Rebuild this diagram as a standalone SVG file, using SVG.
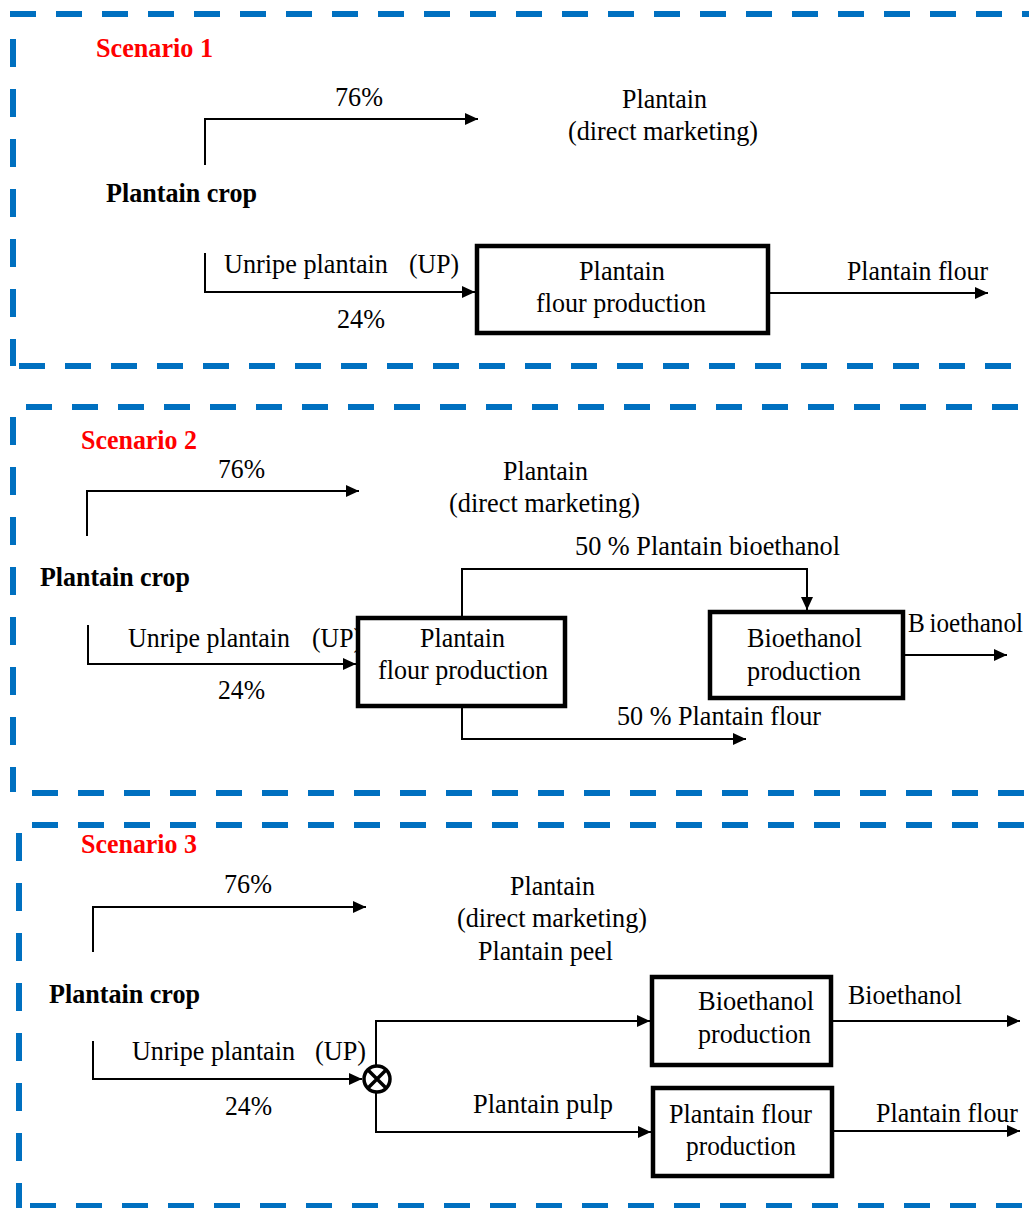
<svg xmlns="http://www.w3.org/2000/svg" width="1029" height="1208" viewBox="0 0 1029 1208">
<defs>
<style>
.t{font-family:"Liberation Serif","Times New Roman",serif;font-size:27px;fill:#000;}
.b{font-family:"Liberation Serif","Times New Roman",serif;font-size:28px;font-weight:bold;fill:#000;}
.r{font-family:"Liberation Serif","Times New Roman",serif;font-size:28px;font-weight:bold;fill:#FF0000;}
.box{fill:#fff;stroke:#000;stroke-width:4.5;}
.c{fill:none;stroke:#000;stroke-width:2;}
.a{fill:none;stroke:#000;stroke-width:2;marker-end:url(#ah);}
.fh{fill:none;stroke:#0070C0;stroke-width:6;stroke-dasharray:26 20;}
.fv{fill:none;stroke:#0070C0;stroke-width:6;stroke-dasharray:28 22;}
</style>
<marker id="ah" markerWidth="13" markerHeight="12" refX="13" refY="6" orient="auto" markerUnits="userSpaceOnUse"><path d="M0,0 L13,6 L0,12 z" fill="#000"/></marker>
</defs>
<rect width="1029" height="1208" fill="#fff"/>

<g id="frames">
<line class="fh" x1="10" y1="14" x2="1029" y2="14"/>
<line class="fv" x1="13" y1="39" x2="13" y2="366"/>
<line class="fh" x1="19" y1="366" x2="1029" y2="366"/>
<line class="fh" x1="26" y1="407" x2="1029" y2="407"/>
<line class="fv" x1="13" y1="417" x2="13" y2="792"/>
<line class="fh" x1="32" y1="793" x2="1029" y2="793"/>
<line class="fh" x1="32" y1="825" x2="1029" y2="825"/>
<line class="fv" x1="19" y1="833" x2="19" y2="1208"/>
<line class="fh" x1="30" y1="1206" x2="1029" y2="1206"/>
</g>

<g id="connectors">
<!-- Scenario 1 -->
<polyline class="a" points="205,165 205,119 478,119"/>
<polyline class="a" points="205,253 205,292 475,292"/>
<line class="a" x1="768" y1="293" x2="988" y2="293"/>
<!-- Scenario 2 -->
<polyline class="a" points="87,536 87,491 359,491"/>
<polyline class="a" points="88,625 88,664 356,664"/>
<polyline class="a" points="462,618 462,569 807,569 807,610"/>
<polyline class="a" points="462,706 462,739 746,739"/>
<line class="a" x1="903" y1="655" x2="1007" y2="655"/>
<!-- Scenario 3 -->
<polyline class="a" points="93,952 93,907 366,907"/>
<polyline class="a" points="93,1041 93,1079 362,1079"/>
<polyline class="a" points="376,1065 376,1021 650,1021"/>
<polyline class="a" points="376,1093 376,1132 651,1132"/>
<line class="a" x1="831" y1="1021" x2="1020" y2="1021"/>
<line class="a" x1="832" y1="1131" x2="1020" y2="1131"/>
</g>

<g id="scenario1">
<text class="r" x="96" y="57" textLength="117" lengthAdjust="spacingAndGlyphs">Scenario 1</text>
<text class="t" x="335" y="106" textLength="48" lengthAdjust="spacingAndGlyphs">76%</text>
<g id="s1-direct"><text class="t" x="622" y="108" textLength="85" lengthAdjust="spacingAndGlyphs">Plantain</text>
<text class="t" x="568" y="140" textLength="190" lengthAdjust="spacingAndGlyphs">(direct marketing)</text></g>
<g id="s1-crop"><text class="b" x="106" y="202" textLength="151" lengthAdjust="spacingAndGlyphs">Plantain crop</text></g>
<text class="t" y="273"><tspan x="224" textLength="164" lengthAdjust="spacingAndGlyphs">Unripe plantain</tspan><tspan x="409" textLength="50" lengthAdjust="spacingAndGlyphs">(UP)</tspan></text>
<text class="t" x="337" y="328" textLength="48" lengthAdjust="spacingAndGlyphs">24%</text>
<g id="s1-flour"><rect class="box" x="477" y="246" width="291" height="87"/>
<text class="t" x="579" y="280" textLength="86" lengthAdjust="spacingAndGlyphs">Plantain</text>
<text class="t" x="536" y="312" textLength="170" lengthAdjust="spacingAndGlyphs">flour production</text></g>
<text class="t" x="847" y="280" textLength="141" lengthAdjust="spacingAndGlyphs">Plantain flour</text>
</g>

<g id="scenario2">
<text class="r" x="81" y="449" textLength="116" lengthAdjust="spacingAndGlyphs">Scenario 2</text>
<text class="t" x="218" y="478" textLength="47" lengthAdjust="spacingAndGlyphs">76%</text>
<g id="s2-direct"><text class="t" x="503" y="480" textLength="85" lengthAdjust="spacingAndGlyphs">Plantain</text>
<text class="t" x="449" y="512" textLength="191" lengthAdjust="spacingAndGlyphs">(direct marketing)</text></g>
<g id="s2-crop"><text class="b" x="40" y="586" textLength="150" lengthAdjust="spacingAndGlyphs">Plantain crop</text></g>
<text class="t" y="647"><tspan x="128" textLength="162" lengthAdjust="spacingAndGlyphs">Unripe plantain</tspan><tspan x="312" textLength="50" lengthAdjust="spacingAndGlyphs">(UP)</tspan></text>
<text class="t" x="218" y="699" textLength="47" lengthAdjust="spacingAndGlyphs">24%</text>
<g id="s2-flour"><rect class="box" x="358" y="618" width="207" height="88"/>
<text class="t" x="420" y="647" textLength="85" lengthAdjust="spacingAndGlyphs">Plantain</text>
<text class="t" x="378" y="679" textLength="170" lengthAdjust="spacingAndGlyphs">flour production</text></g>
<text class="t" x="575" y="555" textLength="265" lengthAdjust="spacingAndGlyphs">50 % Plantain bioethanol</text>
<g id="s2-bio"><rect class="box" x="710" y="612" width="193" height="86"/>
<text class="t" x="747" y="647" textLength="115" lengthAdjust="spacingAndGlyphs">Bioethanol</text>
<text class="t" x="747" y="680" textLength="114" lengthAdjust="spacingAndGlyphs">production</text></g>
<text class="t" x="908" y="632" textLength="115" lengthAdjust="spacingAndGlyphs">B<tspan dx="5">ioethanol</tspan></text>
<text class="t" x="617" y="725" textLength="204" lengthAdjust="spacingAndGlyphs">50 % Plantain flour</text>
</g>

<g id="scenario3">
<text class="r" x="81" y="853" textLength="116" lengthAdjust="spacingAndGlyphs">Scenario 3</text>
<text class="t" x="224" y="893" textLength="48" lengthAdjust="spacingAndGlyphs">76%</text>
<g id="s3-direct"><text class="t" x="510" y="895" textLength="85" lengthAdjust="spacingAndGlyphs">Plantain</text>
<text class="t" x="457" y="927" textLength="190" lengthAdjust="spacingAndGlyphs">(direct marketing)</text>
<text class="t" x="478" y="960" textLength="135" lengthAdjust="spacingAndGlyphs">Plantain peel</text></g>
<g id="s3-crop"><text class="b" x="49" y="1003" textLength="151" lengthAdjust="spacingAndGlyphs">Plantain crop</text></g>
<text class="t" y="1060"><tspan x="132" textLength="163" lengthAdjust="spacingAndGlyphs">Unripe plantain</tspan><tspan x="315" textLength="51" lengthAdjust="spacingAndGlyphs">(UP)</tspan></text>
<text class="t" x="225" y="1115" textLength="47" lengthAdjust="spacingAndGlyphs">24%</text>
<g id="s3-split"><circle cx="377" cy="1079" r="13" fill="#fff" stroke="#000" stroke-width="3.5"/>
<path d="M368,1070 L386,1088 M386,1070 L368,1088" stroke="#000" stroke-width="3.5"/></g>
<g id="s3-bio"><rect class="box" x="652" y="977" width="179" height="88"/>
<text class="t" x="698" y="1010" textLength="116" lengthAdjust="spacingAndGlyphs">Bioethanol</text>
<text class="t" x="698" y="1043" textLength="113" lengthAdjust="spacingAndGlyphs">production</text></g>
<text class="t" x="848" y="1004" textLength="114" lengthAdjust="spacingAndGlyphs">Bioethanol</text>
<text class="t" x="473" y="1113" textLength="140" lengthAdjust="spacingAndGlyphs">Plantain pulp</text>
<g id="s3-flour"><rect class="box" x="653" y="1088" width="179" height="88"/>
<text class="t" x="669" y="1123" textLength="143" lengthAdjust="spacingAndGlyphs">Plantain flour</text>
<text class="t" x="686" y="1155" textLength="110" lengthAdjust="spacingAndGlyphs">production</text></g>
<text class="t" x="876" y="1122" textLength="142" lengthAdjust="spacingAndGlyphs">Plantain flour</text>
</g>
</svg>
